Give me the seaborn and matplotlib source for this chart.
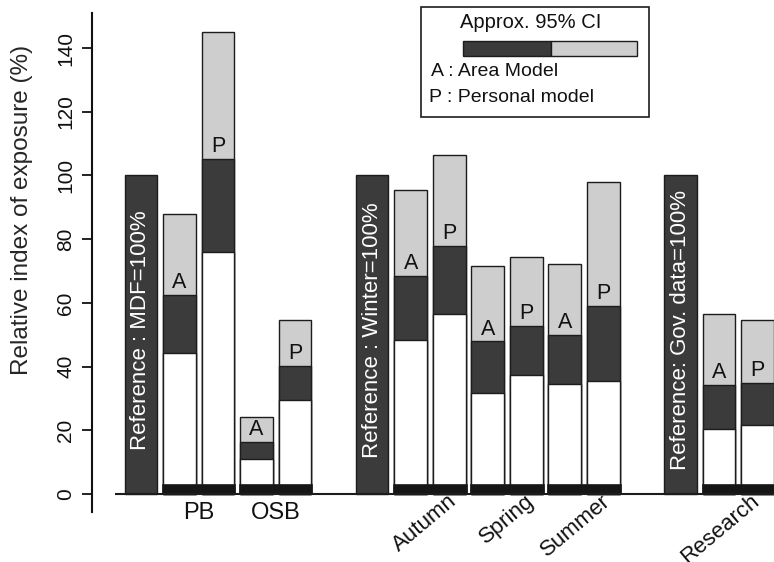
import numpy as np
import matplotlib
matplotlib.use("Agg")
import matplotlib.pyplot as plt
from matplotlib.patches import Rectangle
import seaborn as sns

# ---- data -------------------------------------------------------------
groups = ["PB", "OSB", "Autumn", "Spring", "Summer", "Research"]
groups_per_block = [2, 3, 1]
reference_labels = ["Reference : MDF=100%", "Reference : Winter=100%",
                    "Reference: Gov. data=100%"]
reference_value = 100

# area model: lower CI bound, point estimate, upper CI bound
area_low = [44.3, 11.0, 48.5, 31.6, 34.4, 20.3]
area_est = [62.5, 16.3, 68.5, 47.9, 50.0, 34.1]
area_high = [87.8, 24.2, 95.5, 71.6, 72.2, 56.4]
# personal model
pers_low = [76.0, 29.4, 56.4, 37.5, 35.5, 21.7]
pers_est = [105.1, 40.3, 77.8, 52.7, 59.1, 34.9]
pers_high = [145.0, 54.6, 106.5, 74.3, 97.8, 54.6]

model_tags = ["A", "P"]
legend_lines = ["A : Area Model", "P : Personal model"]
yticks = [0, 20, 40, 60, 80, 100, 120, 140]

# ---- style ------------------------------------------------------------
DARK = "#3b3b3b"
LIGHT = "#cecece"
EDGE = "#1c1c1c"
BAND = "#161616"
BAR_W = 0.85
BAND_H = 3
label_angle = [0, 0, 40, 40, 40, 40]
label_shift = [0, 0, 0.45, 0.45, 0.45, 0.3]

sns.set_theme(style="ticks")
plt.rcParams["font.family"] = ["Liberation Sans", "DejaVu Sans"]
plt.rcParams["text.color"] = "#111111"

fig = plt.figure(figsize=(7.74, 5.62), dpi=100)
ax = fig.add_axes([92 / 774, 50 / 562, 682 / 774, 499 / 562])

# ---- slot layout: reference bar, then an A/P pair per group, gap between blocks
ref_slots, a_slots = [], []
cursor = 0
for n in groups_per_block:
    ref_slots.append(cursor)
    cursor += 1
    for _ in range(n):
        a_slots.append(cursor)
        cursor += 2
    cursor += 1
a_slots = np.array(a_slots, float)
p_slots = a_slots + 1
pair_centres = a_slots + 0.5
model_slots = np.concatenate([a_slots, p_slots])


def bars(pos, vals, color, width=BAR_W, lw=1.0):
    pos = np.asarray(pos, float)
    step = np.min(np.diff(np.sort(pos))) if len(pos) > 1 else 1.0
    sns.barplot(x=pos, y=vals, native_scale=True, orient="x",
                width=width / step, color=color, saturation=1,
                edgecolor=EDGE, linewidth=lw, errorbar=None, ax=ax)


# reference bars
bars(ref_slots, [reference_value] * len(ref_slots), DARK)
# upper half of CI (light), lower half (dark), remainder (white)
bars(model_slots, area_high + pers_high, LIGHT)
bars(model_slots, area_est + pers_est, DARK)
bars(model_slots, area_low + pers_low, "white")
# dark foot under each pair
bars(pair_centres, [BAND_H] * len(pair_centres), BAND, width=1.9, lw=0.5)

# model tags sitting on the point estimate
for slots, est, tag in [(a_slots, area_est, model_tags[0]),
                        (p_slots, pers_est, model_tags[1])]:
    for x, v in zip(slots, est):
        ax.text(x, v + 0.6, tag, ha="center", va="bottom", fontsize=15.5,
                color="#111111")

# reference captions inside the dark bars
for x, txt in zip(ref_slots, reference_labels):
    ax.text(x, 51.5, txt, rotation=90, ha="center", va="center",
            color="white", fontsize=16)

# group labels under the pairs
for x, name, ang, dx in zip(pair_centres, groups, label_angle, label_shift):
    if ang == 0:
        ax.text(x, -2.4, name, ha="center", va="top", fontsize=17,
                clip_on=False)
    else:
        ax.text(x + dx, 1.0, name, ha="right", va="top", rotation=ang,
                rotation_mode="anchor", fontsize=16, clip_on=False)

# axes
xmin, xmax = -1.27, 16.43
ax.plot([-0.68, xmax], [0, 0], color=EDGE, lw=1.5, clip_on=False,
        solid_capstyle="butt")
ax.set_xlim(xmin, xmax)
ax.set_ylim(-5.65, 151)
ax.set_xticks([])
ax.set_xlabel("")
ax.set_yticks(yticks)
ax.tick_params(axis="y", length=7, width=1.3, direction="out", labelsize=15,
               pad=5, labelrotation=90, colors="#111111")
for lbl in ax.get_yticklabels():
    lbl.set_va("center")
sns.despine(ax=ax, top=True, right=True, bottom=True)
ax.spines["left"].set_linewidth(1.5)
ax.spines["left"].set_color("#111111")
ax.set_ylabel("Relative index of exposure (%)", fontsize=17.5)
ax.yaxis.set_label_coords(-0.0865, 0.605)

# CI key box
W, H = 774, 562


def fx(px):
    return px / W


def fy(py):
    return 1 - py / H


fig.patches.append(Rectangle((fx(421), fy(117)), fx(649) - fx(421),
                             fy(7) - fy(117), transform=fig.transFigure,
                             fill=False, edgecolor=EDGE, lw=1.2))
fig.patches.append(Rectangle((fx(463), fy(56)), fx(551) - fx(463),
                             fy(41) - fy(56), transform=fig.transFigure,
                             facecolor=DARK, edgecolor=EDGE, lw=1.0))
fig.patches.append(Rectangle((fx(551), fy(56)), fx(637) - fx(551),
                             fy(41) - fy(56), transform=fig.transFigure,
                             facecolor=LIGHT, edgecolor=EDGE, lw=1.0))
fig.text(fx(531), fy(23), "Approx. 95% CI", ha="center", va="center",
         fontsize=14.5)
fig.text(fx(431), fy(72), legend_lines[0], ha="left", va="center",
         fontsize=14)
fig.text(fx(429), fy(98), legend_lines[1], ha="left", va="center",
         fontsize=14)

fig.savefig("out.png", dpi=100)
